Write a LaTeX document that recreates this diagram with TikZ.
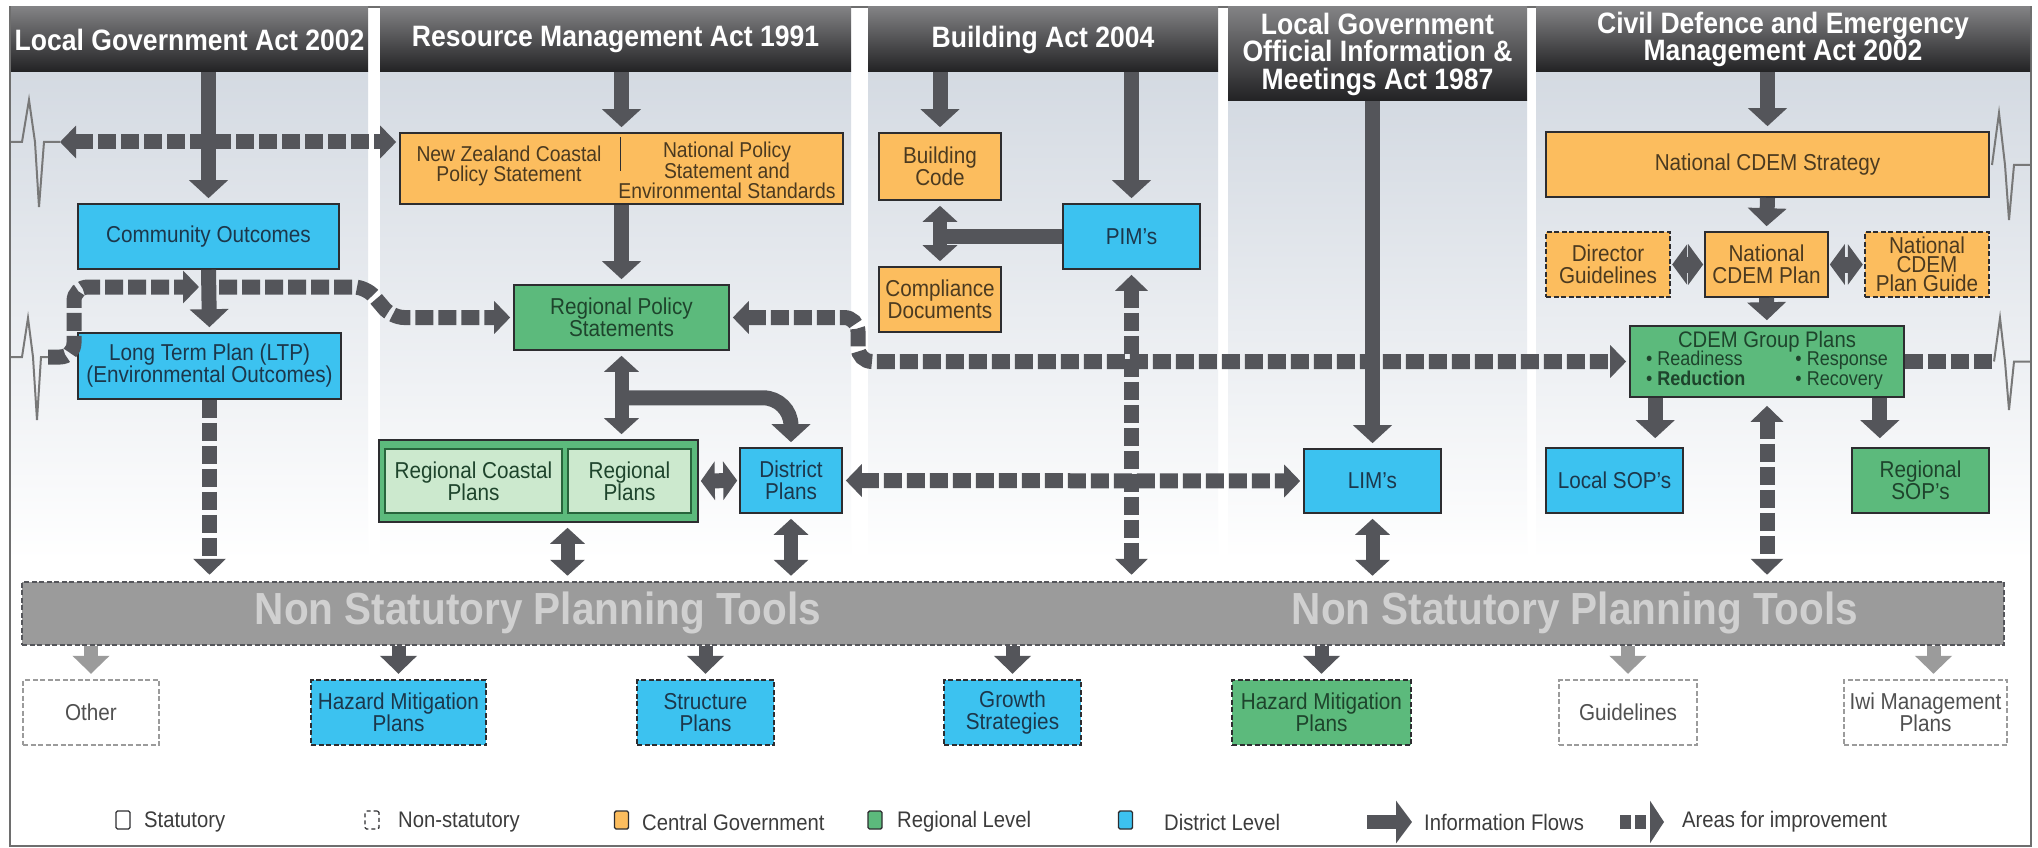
\documentclass[tikz,border=0pt]{standalone}
\usepackage{fontspec}
\setmainfont{Liberation Sans}[FakeStretch=0.9]
\usetikzlibrary{arrows.meta,calc}
\definecolor{cblue}{RGB}{60,194,240}
\definecolor{corange}{RGB}{252,189,94}
\definecolor{cgreen}{RGB}{92,186,124}
\definecolor{clgreen}{RGB}{204,233,206}
\definecolor{arr}{RGB}{84,85,90}
\definecolor{arrl}{RGB}{155,155,155}
\definecolor{barg}{RGB}{155,155,155}
\definecolor{bartxt}{RGB}{208,208,208}
\definecolor{colbg}{RGB}{212,218,226}
\definecolor{colmid}{RGB}{228,232,237}
\definecolor{hdtop}{RGB}{130,130,132}
\definecolor{hdbot}{RGB}{34,34,36}
\definecolor{boxline}{RGB}{45,45,48}
\definecolor{grline}{RGB}{40,100,60}
\definecolor{bluetxt}{RGB}{28,55,75}
\definecolor{ortxt}{RGB}{75,58,32}
\definecolor{grtxt}{RGB}{30,68,44}
\definecolor{graytxt}{RGB}{80,80,80}
\definecolor{legc}{RGB}{60,60,60}
\definecolor{ecg}{RGB}{120,120,120}
\definecolor{framec}{RGB}{110,110,110}
\tikzset{
  bx/.style={draw=boxline, line width=1.6pt, align=center, inner sep=1pt, font=\fontsize{23}{22}\selectfont},
  bluebox/.style={bx, fill=cblue, text=bluetxt},
  orbox/.style={bx, fill=corange, text=ortxt},
  grbox/.style={bx, fill=cgreen, text=grtxt},
  lgrbox/.style={bx, fill=clgreen, draw=grline, text=grtxt},
  nsbord/.style={dash pattern=on 5pt off 2.5pt, line width=2.4pt},
  whitebox/.style={bx, fill=white, draw=arrl, nsbord, text=graytxt},
  plaintxt/.style={align=center, inner sep=0pt, font=\fontsize{21.5}{20}\selectfont, text=ortxt},
  hdr/.style={top color=hdtop, bottom color=hdbot, draw=none, text=white, align=center, inner sep=0pt, font=\fontsize{29.5}{27.5}\bfseries\selectfont},
  infoarrow/.style={draw=arr, line width=15pt, -{Triangle[length=18pt,width=38pt]}, shorten >=5pt},
  infobi/.style={draw=arr, line width=14pt, {Triangle[length=16pt,width=34pt]}-{Triangle[length=16pt,width=34pt]}, shorten >=5pt, shorten <=5pt},
  impline/.style={draw=arr, line width=15pt, dash pattern=on 18pt off 5pt},
  imparrow/.style={impline, -{Triangle[length=16pt,width=32pt]}, shorten >=4pt},
  impbi/.style={impline, {Triangle[length=16pt,width=32pt]}-{Triangle[length=16pt,width=32pt]}, shorten >=4pt, shorten <=4pt},
  downarrow/.style={draw=arr, line width=14pt, -{Triangle[length=18pt,width=36pt]}, shorten >=5pt},
  downlight/.style={downarrow, draw=arrl},
  ecgline/.style={draw=ecg, line width=2pt},
  legtxt/.style={anchor=west, inner sep=0pt, text=legc, font=\fontsize{22.5}{22}\selectfont},
  legsq/.style={draw=boxline, line width=1.4pt, minimum width=14pt, minimum height=18pt, inner sep=0pt, rounded corners=1.5pt},
  bartext/.style={text=bartxt, inner sep=0pt, font=\fontsize{45}{45}\bfseries\selectfont},
  colshade/.style={top color=colbg, middle color=colmid, bottom color=white},
}
\begin{document}
\begin{tikzpicture}[x=1pt,y=-1pt]
\useasboundingbox (0,0) rectangle (2038,848);
\fill[white] (0,0) rectangle (2038,848);
% column backgrounds
\shade[colshade] (11,72) rectangle (368,560);
\shade[colshade] (380,72) rectangle (851,560);
\shade[colshade] (868,72) rectangle (1218,560);
\shade[colshade] (1228,101) rectangle (1527,560);
\shade[colshade] (1536,72) rectangle (2030,560);
\draw[framec, line width=2pt] (10,7) rectangle (2031,846);
% headers
\node[hdr, minimum width=357pt, minimum height=65pt] (h1) at (189.5,39.5) {Local Government Act 2002};
\node[hdr, minimum width=471pt, minimum height=65pt] (h2) at (615.5,39.5) {Resource Management Act 1991};
\node[hdr, minimum width=350pt, minimum height=65pt] (h3) at (1043,39.5) {Building Act 2004};
\node[hdr, minimum width=299pt, minimum height=94pt] (h4) at (1377.5,54) {Local Government\\Official Information \&\\Meetings Act 1987};
\node[hdr, minimum width=494pt, minimum height=65pt] (h5) at (1783,39.5) {Civil Defence and Emergency\\Management Act 2002};
% boxes
\node[bluebox, minimum width=261pt, minimum height=65pt] (co) at (208.5,236.5) {Community Outcomes};
\node[bluebox, minimum width=263pt, minimum height=66pt] (ltp) at (209.5,366) {Long Term Plan (LTP)\\(Environmental Outcomes)};
\node[orbox, minimum width=443pt, minimum height=71pt] (nz) at (621.5,168.5) {};
\node[plaintxt] (nzl) at (509,166) {New Zealand Coastal\\Policy Statement};
\node[plaintxt] (nzr) at (727,170) {National Policy\\Statement and\\Environmental Standards};
\draw[boxline, line width=1.4pt] (620.5,137) -- (620.5,171);
\node[grbox, minimum width=215pt, minimum height=65pt] (rps) at (621.5,317.5) {Regional Policy\\Statements};
\node[grbox, minimum width=319pt, minimum height=82pt] (rgroup) at (538.5,481) {};
\node[lgrbox, minimum width=177pt, minimum height=64pt] (rcp) at (473.5,481) {Regional Coastal\\Plans};
\node[lgrbox, minimum width=123pt, minimum height=64pt] (rp) at (629.5,481) {Regional\\Plans};
\node[bluebox, minimum width=102pt, minimum height=65pt] (dp) at (791,480.5) {District\\Plans};
\node[orbox, minimum width=122pt, minimum height=67pt] (bc) at (940,166.5) {Building\\Code};
\node[orbox, minimum width=122pt, minimum height=65pt] (cd) at (940,299.5) {Compliance\\Documents};
\node[bluebox, minimum width=137pt, minimum height=65pt] (pim) at (1131.5,236.5) {PIM's};
\node[bluebox, minimum width=137pt, minimum height=64pt] (lim) at (1372.5,481) {LIM's};
\node[orbox, minimum width=443pt, minimum height=65pt] (ncs) at (1767.5,164.5) {National CDEM Strategy};
\node[orbox, nsbord, minimum width=124pt, minimum height=65pt] (dg) at (1608,264.5) {Director\\Guidelines};
\node[orbox, minimum width=123pt, minimum height=65pt] (ncp) at (1766.5,264.5) {National\\CDEM Plan};
\node[orbox, nsbord, minimum width=124pt, minimum height=65pt, font=\fontsize{23}{19}\selectfont] (ncpg) at (1927,264.5) {National\\CDEM\\Plan Guide};
\node[grbox, minimum width=274pt, minimum height=71pt, inner sep=0pt] (cgp) at (1767,361.5)
  {\fontsize{22.5}{20}\selectfont CDEM Group Plans\\[-2pt]
   \fontsize{20}{20}\selectfont\begin{tabular}{@{}l@{\hspace{50pt}}l@{}}• Readiness & • Response\\ • \textbf{Reduction} & • Recovery\end{tabular}};
\node[bluebox, minimum width=137pt, minimum height=65pt] (lsop) at (1614.5,480.5) {Local SOP's};
\node[grbox, minimum width=137pt, minimum height=65pt] (rsop) at (1920.5,480.5) {Regional\\SOP's};
% non statutory bar
\node[draw=arr, nsbord, line width=2.5pt, fill=barg, minimum width=1982pt, minimum height=63pt, inner sep=0pt] (bar) at (1013,613.5) {};
\node[bartext] (bt1) at (538,613) {Non Statutory Planning Tools};
\node[bartext] (bt2) at (1575,613) {Non Statutory Planning Tools};
% bottom boxes
\node[whitebox, minimum width=136pt, minimum height=65pt] (oth) at (91,712.5) {Other};
\node[bluebox, nsbord, minimum width=175pt, minimum height=65pt] (hm1) at (398.5,712.5) {Hazard Mitigation\\Plans};
\node[bluebox, nsbord, minimum width=137pt, minimum height=65pt] (sp) at (705.5,712.5) {Structure\\Plans};
\node[bluebox, nsbord, minimum width=137pt, minimum height=65pt] (gs) at (1012.5,712.5) {Growth\\Strategies};
\node[grbox, nsbord, minimum width=179pt, minimum height=65pt] (hm2) at (1321.5,712.5) {Hazard Mitigation\\Plans};
\node[whitebox, minimum width=138pt, minimum height=65pt] (gl) at (1628,712.5) {Guidelines};
\node[whitebox, minimum width=163pt, minimum height=65pt] (iwi) at (1925.5,712.5) {Iwi Management\\Plans};
% ---------- areas for improvement (dashed) ----------
\coordinate (e1) at (60,142);
\draw[impbi, shorten <=0pt, shorten >=3pt] (e1) -- (nz.west |- e1);
\coordinate (e2) at (48,357);
\coordinate (m1) at (199,287);
\coordinate (m2) at (219,287);
\draw[imparrow, shorten >=0pt, rounded corners=14pt] (e2) -- (74,357) -- (74,287) -- (m1);
\draw[imparrow, shorten >=3pt, rounded corners=12pt] (m2) -- (366,287) -- (392,317.5) -- (rps.west);
\draw[impbi, shorten <=3pt, shorten >=3pt, rounded corners=14pt] (rps.east) -- (858,317.5) -- (858,361.5) -- (cgp.west);
\draw[imparrow, shorten >=6pt] (ltp.south) -- (ltp.south |- bar.north);
\draw[impbi, shorten <=5pt, shorten >=6pt] (pim.south) -- (pim.south |- bar.north);
\draw[impbi, shorten <=3pt, shorten >=3pt] (dp.east) -- (lim.west);
\draw[impbi, shorten <=8pt, shorten >=6pt] (cgp.south) -- (cgp.south |- bar.north);
\coordinate (e4) at (1994,361.5);
\draw[impline] (cgp.east) -- (e4);
% ---------- information flows ----------
\draw[infoarrow] (h1.south -| co.north) -- (co.north);
\draw[infoarrow] (co.south) -- (ltp.north);
\draw[infoarrow] (h2.south -| nz.north) -- (nz.north);
\draw[infoarrow] (nz.south) -- (rps.north);
\draw[infobi] (rps.south) -- (rps.south |- rgroup.north);
\coordinate (br) at ($(rps.south)+(0,47)$);
\draw[infoarrow, rounded corners=28pt] (br) -- (br -| dp.north) -- (dp.north);
\draw[draw=arr, line width=15pt, {Triangle[length=14pt,width=38pt]}-{Triangle[length=14pt,width=38pt]}, shorten <=2pt, shorten >=2pt] (rgroup.east) -- (dp.west);
\coordinate (rgb) at ($(rgroup.south)+(29,0)$);
\draw[infobi] (rgb) -- (rgb |- bar.north);
\draw[infobi] (dp.south) -- (dp.south |- bar.north);
\draw[infoarrow] (h3.south -| bc.north) -- (bc.north);
\draw[infobi] (bc.south) -- (cd.north);
\draw[draw=arr, line width=15pt] (pim.west) -- (pim.west -| bc.south);
\draw[infoarrow] (h3.south -| pim.north) -- (pim.north);
\draw[infoarrow] (h4.south -| lim.north) -- (lim.north);
\draw[infobi] (lim.south) -- (lim.south |- bar.north);
\draw[infoarrow] (h5.south -| ncs.north) -- (ncs.north);
\draw[infoarrow] (ncs.south) -- (ncp.north);
\draw[draw=arr, line width=16pt, {Triangle[length=15pt,width=40pt]}-{Triangle[length=15pt,width=40pt]}, shorten <=1pt, shorten >=1pt] (dg.east) -- (ncp.west);
\draw[draw=arr, line width=16pt, {Triangle[length=15pt,width=40pt]}-{Triangle[length=15pt,width=40pt]}, shorten <=1pt, shorten >=1pt] (ncp.east) -- (ncpg.west);
\draw[infoarrow] (ncp.south) -- (cgp.north);
\coordinate (cl) at ($(cgp.south west)+(26,0)$);
\draw[infoarrow, shorten >=9pt] (cl) -- (cl |- lsop.north);
\coordinate (cr) at ($(cgp.south east)+(-25,0)$);
\draw[infoarrow, shorten >=9pt] (cr) -- (cr |- rsop.north);
% bar to bottom boxes
\draw[downlight] (bar.south -| oth.north) -- (oth.north);
\draw[downarrow] (bar.south -| hm1.north) -- (hm1.north);
\draw[downarrow] (bar.south -| sp.north) -- (sp.north);
\draw[downarrow] (bar.south -| gs.north) -- (gs.north);
\draw[downarrow] (bar.south -| hm2.north) -- (hm2.north);
\draw[downlight] (bar.south -| gl.north) -- (gl.north);
\coordinate (iwa) at ($(iwi.north)+(8,0)$);
\draw[downlight] (bar.south -| iwa) -- (iwa);
% ---------- ECG break marks ----------
\draw[ecgline] (11,142) -- (22,142) -- (29,100) -- (35,142) -- (39,207) -- (44,142) -- (e1);
\draw[ecgline] (11,357) -- (22,357) -- (28,318) -- (33,357) -- (37,420) -- (41,357) -- (e2);
\draw[ecgline] (1992,165) -- (1999,113) -- (2005,165) -- (2009,220) -- (2014,165) -- (2030,165);
\draw[ecgline] (e4) -- (2000,318) -- (2005,361.5) -- (2009,410) -- (2014,361.5) -- (2030,361.5);
% ---------- legend ----------
\node[legsq, fill=white] (lg1) at (123,820) {};
\node[legtxt] (lt1) at (144,822) {Statutory};
\node[legsq, fill=white, dash pattern=on 4pt off 3pt] (lg2) at (372,820) {};
\node[legtxt] (lt2) at (398,822) {Non-statutory};
\node[legsq, fill=corange] (lg3) at (621.5,820) {};
\node[legtxt] (lt3) at (642,822) {Central Government};
\node[legsq, fill=cgreen] (lg4) at (875,820) {};
\node[legtxt] (lt4) at (897,822) {Regional Level};
\node[legsq, fill=cblue] (lg5) at (1125.5,820) {};
\node[legtxt] (lt5) at (1164,822) {District Level};
\coordinate (la1) at (1367,822);
\coordinate (la2) at (1412,822);
\draw[draw=arr, line width=14pt, -{Triangle[length=16pt,width=42pt]}] (la1) -- (la2);
\node[legtxt] (lt6) at (1424,822) {Information Flows};
\coordinate (lb1) at (1620,822);
\coordinate (lb2) at (1664,822);
\draw[draw=arr, line width=14pt, dash pattern=on 11pt off 4pt, -{Triangle[length=14pt,width=42pt]}] (lb1) -- (lb2);
\node[legtxt] (lt7) at (1682,822) {Areas for improvement};
\end{tikzpicture}
\end{document}
